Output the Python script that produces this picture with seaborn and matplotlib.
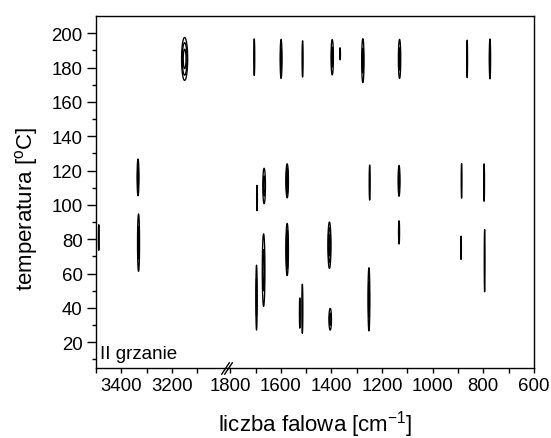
import numpy as np
import matplotlib
matplotlib.use("Agg")
import matplotlib.pyplot as plt
import seaborn as sns

# ---- data (wavenumber cm-1, temperature degC) ----
peak_wn = [3150, 1705, 1599, 1514, 1397, 1366, 1276, 1131, 864, 774,
           3334, 3489, 3332, 1694, 1666, 1575, 1696, 1668, 1575, 1525,
           1515, 1249, 1133, 886, 797, 1408, 1133, 888, 795, 1405, 1252]
peak_t = [185, 186, 185, 185, 186, 188, 184, 185, 185, 185,
          116, 81, 78, 104, 111, 114, 46, 62, 74, 37,
          39.5, 113, 114, 114, 113, 76.5, 84, 75, 67.5, 33.4, 45]
# half-extent of the outer contour in wavenumber and temperature
peak_hw = [12.0, 2.0, 3.6, 2.0, 4.6, 1.5, 4.6, 4.6, 1.5, 2.6,
           3.6, 1.5, 4.0, 1.5, 5.2, 5.0, 2.6, 5.2, 5.0, 1.5,
           2.0, 2.0, 3.6, 1.5, 1.5, 6.0, 2.0, 1.2, 1.5, 5.0, 3.6]
peak_hh = [12.5, 10.7, 11.4, 10.6, 10.3, 3.5, 12.8, 11.4, 10.9, 11.6,
           10.7, 7.5, 16.7, 7.4, 10.3, 9.9, 18.9, 21.1, 15.2, 8.8,
           14.3, 10.2, 9.0, 10.1, 10.9, 13.5, 6.8, 6.8, 18.1, 6.3, 18.4]
peak_rings = [3, 1, 2, 1, 2, 1, 2, 2, 1, 2,
              2, 1, 2, 1, 2, 3, 2, 2, 3, 1,
              1, 1, 2, 1, 1, 3, 1, 1, 1, 2, 2]

contour_levels = [1.0, 1.6, 2.4]
ring_amplitude = {1: 1.3, 2: 2.0, 3: 3.0}

xtick_major = [3400, 3200, 1800, 1600, 1400, 1200, 1000, 800, 600]
xtick_labels = ["3400", "3200", "1800", "1600", "1400", "1200", "1000", "800", "600"]
xtick_minor = [3500, 3300, 3100, 1700, 1500, 1300, 1100, 900, 700]
ytick_major = [20, 40, 60, 80, 100, 120, 140, 160, 180, 200]

# ---- broken x axis as a function scale ----
GAP = 30.0
def fwd(x):
    x = np.asarray(x, dtype=float)
    return np.where(x <= 1800, x,
                    np.where(x >= 3000, x - 1200 + GAP,
                             1800 + (x - 1800) * GAP / 1200))

def inv(u):
    u = np.asarray(u, dtype=float)
    return np.where(u <= 1800, u,
                    np.where(u >= 1800 + GAP, u + 1200 - GAP,
                             1800 + (u - 1800) * 1200 / GAP))

sns.set_theme(style="ticks")
plt.rcParams["font.family"] = ["Liberation Sans", "DejaVu Sans"]
plt.rcParams["mathtext.fontset"] = "custom"
plt.rcParams["mathtext.rm"] = "Liberation Sans"

fig = plt.figure(figsize=(5.51, 4.39), dpi=100)
ax = fig.add_axes([96 / 551, 1 - 369 / 439, 438 / 551, 352 / 439])
ax.set_xscale("function", functions=(fwd, inv))

# each peak is contoured on its own local grid
for c, t0, hw, hh, r in zip(peak_wn, peak_t, peak_hw, peak_hh, peak_rings):
    A = ring_amplitude[r]
    k = np.sqrt(2 * np.log(A))
    sx, sy = hw / k, hh / k
    gw = np.linspace(c - 3 * sx, c + 3 * sx, 81)
    gt = np.linspace(t0 - 3 * sy, t0 + 3 * sy, 161)
    gx = np.exp(-0.5 * ((gw - c) / sx) ** 2)
    gy = np.exp(-0.5 * ((gt - t0) / sy) ** 2)
    Z = A * np.outer(gy, gx)
    ax.contour(gw, gt, Z, levels=contour_levels, colors="black",
               linewidths=0.95)

ax.set_xlim(3500, 600)
ax.set_ylim(5, 210)
ax.set_xticks(xtick_major)
ax.set_xticklabels(xtick_labels)
ax.set_xticks(xtick_minor, minor=True)
ax.set_yticks(ytick_major)
ax.set_yticks(np.arange(10, 210, 10), minor=True)

for s in ax.spines.values():
    s.set_color("black")
    s.set_linewidth(1.0)

ax.tick_params(axis="both", which="both", direction="out", color="black",
               labelsize=13.4, labelcolor="black", top=False, right=False)
ax.tick_params(axis="y", which="major", length=6.5, width=1.0, pad=3)
ax.tick_params(axis="y", which="minor", length=3.2, width=1.0)
ax.tick_params(axis="x", which="major", length=3.5, width=1.0, pad=3)
ax.tick_params(axis="x", which="minor", length=3.5, width=1.0)

ax.set_xlabel("liczba falowa [cm$^{\\mathregular{-1}}$]", fontsize=16, color="black")
ax.set_ylabel("temperatura [$^{\\mathregular{o}}$C]", fontsize=16, color="black")
ax.xaxis.set_label_coords(0.5, -0.115)
ax.yaxis.set_label_coords(-0.128, 0.455)

ax.text(0.009, 0.028, "II grzanie", transform=ax.transAxes, fontsize=13.5,
        ha="left", va="baseline", color="black")

# break marks on the bottom axis
d = 1.5
ax.plot([2150, 2650], [0, 0], transform=ax.get_xaxis_transform(),
        marker=[(-1, -d), (1, d)], markersize=9, linestyle="none",
        color="black", mec="black", mew=1.0, clip_on=False)

fig.savefig("out.png", dpi=100, facecolor="white")
